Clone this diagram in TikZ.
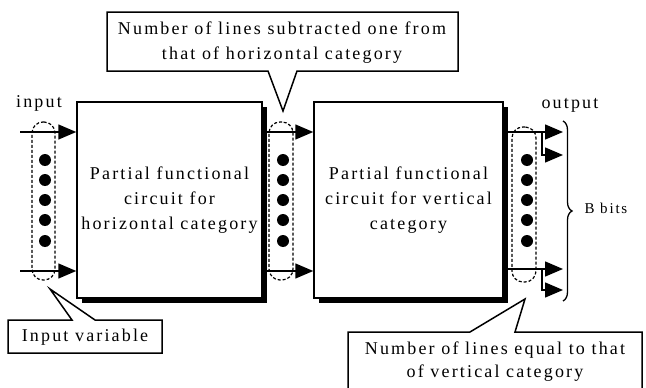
\documentclass[tikz,border=0pt]{standalone}
\usepackage{fontspec}
\setmainfont{Liberation Serif}[LetterSpace=12]
\usetikzlibrary{arrows.meta,shadows,decorations.pathreplacing}
\begin{document}
\begin{tikzpicture}[x=1pt,y=-1pt,
  lbl/.style={font=\fontsize{18}{25}\selectfont, align=center, inner sep=0pt},
  block/.style={draw, line width=1.5pt, fill=white, minimum height=196pt, inner sep=0pt,
    font=\fontsize{18}{25}\selectfont, align=center,
    drop shadow={shadow xshift=5pt, shadow yshift=-5pt, fill=black, opacity=1}},
  sig/.style={line width=1.5pt, -{Triangle[length=18pt,width=15pt]}},
  bundle/.style={draw, line width=1.2pt, rounded corners=11pt, dash pattern=on 3pt off 2pt, inner sep=0pt},
  dot/.style={circle, fill=black, minimum size=12pt, inner sep=0pt},
  callout/.style={draw, line width=1.5pt, fill=white, line join=miter}
]
\useasboundingbox (0,0) rectangle (646,388);

% blocks
\node[block, minimum width=185pt] (b1) at (169.5,200) {Partial functional\\circuit for\\horizontal category};
\node[block, minimum width=189pt] (b2) at (408.5,200) {Partial functional\\circuit for vertical\\category};

% bundles
\node[bundle, minimum width=23pt, minimum height=158pt] (bin) at (43.5,201) {};
\node[bundle, minimum width=24pt, minimum height=158pt] (bmid) at (281,201) {};
\node[bundle, minimum width=24pt, minimum height=155pt] (bout) at (524,204.5) {};

\foreach \y [count=\i] in {160,180,200,220,241} {
  \node[dot] (din\i) at (45,\y) {};
  \node[dot] (dmid\i) at (283,\y) {};
  \node[dot] (dout\i) at (527,\y) {};
}

% input arrows
\coordinate (i1) at (20,132);
\coordinate (i2) at (20,271);
\draw[sig] (i1) -- (i1 -| b1.west);
\draw[sig] (i2) -- (i2 -| b1.west);

% middle arrows
\draw[sig] (b1.east |- i1) -- (b2.west |- i1);
\draw[sig] (b1.east |- i2) -- (b2.west |- i2);

% output arrows
\coordinate (o1) at (563,132);
\coordinate (o2) at (563,155);
\coordinate (o3) at (563,269);
\coordinate (o4) at (563,290);
\coordinate (j1) at (542,132);
\coordinate (j2) at (542,269);
\draw[sig] (b2.east |- o1) -- (o1);
\draw[sig] (j1) |- (o2);
\draw[sig] (b2.east |- o3) -- (o3);
\draw[sig] (j2) |- (o4);

% brace
\draw[decorate, decoration={brace, amplitude=9pt}, line width=1.3pt] (563,121) -- (563,301);
\node[lbl, font=\fontsize{15}{18}\selectfont] (bbits) at (606,208) {B bits};

% labels
\node[lbl] (lin) at (39,103) {input};
\node[lbl] (lout) at (570,105) {output};

% callouts
\draw[callout] (107,12) -- (458,12) -- (458,71) -- (297,71) -- (283,111) -- (268,71) -- (107,71) -- cycle;
\node[lbl] (c1) at (282,42.5) {Number of lines subtracted one from\\that of horizontal category};

\draw[callout] (8,320) -- (72,320) -- (50,289) -- (95,320) -- (162,320) -- (162,353) -- (8,353) -- cycle;
\node[lbl] (c2) at (85,337) {Input variable};

\draw[callout] (348,332) -- (470,332) -- (525,299) -- (515,332) -- (642,332) -- (642,395) -- (348,395) -- cycle;
\node[lbl, font=\fontsize{18}{23}\selectfont] (c3) at (495,361.5) {Number of lines equal to that\\of vertical category};
\end{tikzpicture}
\end{document}
